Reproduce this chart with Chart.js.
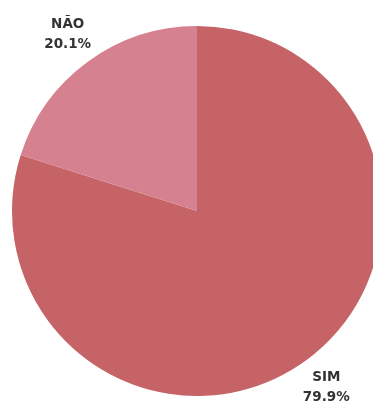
<!DOCTYPE html>
<html>
<head>
<meta charset="utf-8">
<script src="https://cdn.jsdelivr.net/npm/chart.js@4"></script>
<style>
    html, body { margin: 0; padding: 0; background: #fff; overflow: hidden; }
    #wrap { width: 373px; height: 410px; overflow: hidden; }
</style>
</head>
<body>
<div id="wrap"><canvas id="pieChart" width="400" height="410"></canvas></div>
<script>
const labels = ['SIM', 'NÃO'];
const values = [79.9, 20.1];
const colors = ['#c56366', '#d5818f'];

// draw "LABEL / xx.x%" outside each slice
const outsideLabels = {
    id: 'outsideLabels',
    afterDatasetsDraw(chart) {
        const ctx = chart.ctx;
        const arcs = chart.getDatasetMeta(0).data;
        ctx.save();
        ctx.fillStyle = '#333';
        ctx.font = 'bold 13.5px "DejaVu Sans", sans-serif';
        ctx.textAlign = 'center';
        ctx.textBaseline = 'middle';
        arcs.forEach((arc, i) => {
            const mid = (arc.startAngle + arc.endAngle) / 2;
            const d = arc.outerRadius + 34;
            const x = arc.x + Math.cos(mid) * d;
            const y = arc.y + Math.sin(mid) * d;
            ctx.fillText(labels[i], x, y - 10);
            ctx.fillText(values[i].toFixed(1) + '%', x, y + 10);
        });
        ctx.restore();
    }
};

document.addEventListener('DOMContentLoaded', function () {
    const ctx = document.getElementById('pieChart').getContext('2d');
    new Chart(ctx, {
        type: 'pie',
        data: {
            labels: labels,
            datasets: [{
                data: values,
                backgroundColor: colors,
                borderWidth: 0
            }]
        },
        options: {
            responsive: false,
            animation: false,
            layout: {
                padding: { left: 12, right: 18, top: 26, bottom: 14 }
            },
            plugins: {
                legend: { display: false },
                tooltip: { enabled: false }
            }
        },
        plugins: [outsideLabels]
    });
});
</script>
</body>
</html>
